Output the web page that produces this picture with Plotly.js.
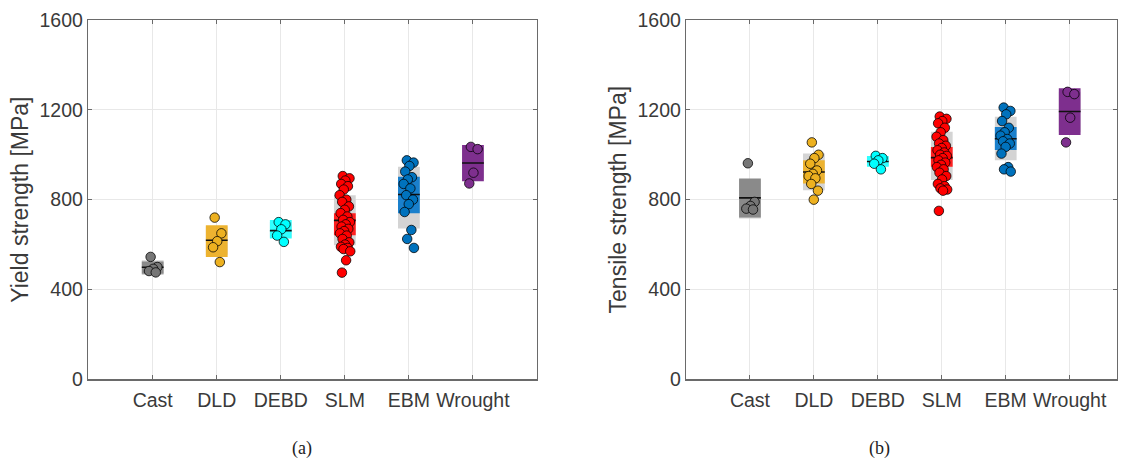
<!DOCTYPE html>
<html><head><meta charset="utf-8">
<script src="https://cdn.plot.ly/plotly-3.0.1.min.js"></script>
<style>html,body{margin:0;padding:0;background:#fff}</style>
</head><body><div id="chart" style="width:1126px;height:474px"></div>
<script>
// ---------- data ----------
const categories = ['Cast', 'DLD', 'DEBD', 'SLM', 'EBM', 'Wrought'];
const catPos = [1, 2, 3, 4, 5, 6];
const yTicks = [0, 400, 800, 1200, 1600];

// (a) Yield strength [MPa]
const yieldCast = [545, 500, 492, 482, 476];
const yieldDLD = [720, 650, 615, 588, 522];
const yieldDEBD = [700, 690, 668, 640, 612];
const yieldSLM = [905, 895, 885, 870, 860, 845, 820, 800, 790, 770, 755, 740, 725, 710, 700,
                  690, 680, 670, 660, 650, 640, 625, 610, 600, 590, 585, 580, 570, 530, 475];
const yieldEBM = [975, 965, 950, 925, 900, 890, 870, 850, 820, 800, 780, 745, 665, 625, 585];
const yieldWrought = [1035, 1025, 920, 872];
const yieldCiLow  = [470, 545, 627, 642, 739, 882];
const yieldCiHigh = [525, 686, 709, 739, 902, 1043];
const yieldSdLow  = [465, 555, 632, 597, 672, 895];
const yieldSdHigh = [530, 680, 700, 820, 946, 1030];

// (b) Tensile strength [MPa]
const tensCast = [962, 790, 772, 760, 756];
const tensDLD = [1055, 1000, 985, 960, 930, 915, 905, 895, 870, 840, 800];
const tensDEBD = [995, 985, 975, 960, 935];
const tensSLM = [1170, 1160, 1150, 1140, 1120, 1100, 1080, 1065, 1050, 1040, 1030, 1020, 1010, 1000, 995,
                 985, 975, 965, 955, 945, 935, 920, 905, 890, 870, 860, 850, 845, 840, 750];
const tensEBM = [1210, 1195, 1180, 1150, 1120, 1100, 1085, 1070, 1060, 1050, 1035, 1005, 945, 935, 925];
const tensWrought = [1280, 1270, 1165, 1055];
const tensCiLow  = [720, 872, 946, 946, 1021, 1088];
const tensCiHigh = [894, 976, 994, 1035, 1124, 1296];
const tensSdLow  = [716, 842, 950, 887, 976, 1100];
const tensSdHigh = [890, 1006, 990, 1102, 1169, 1280];

// ---------- styles ----------
const markerColors = ['#767676', '#EDB120', '#00FFFF', '#FF0000', '#0072BD', '#7E2F8E'];
const ciColors = ['#8a8a8a', '#EDB330', '#30FFFF', '#FF2020', '#1A80CC', '#7E2F8E'];
const sdColor = '#d4d4d4';
const boxW = 0.34;
const jitW = 0.17;

function mean(a) { return a.reduce((s, v) => s + v, 0) / a.length; }

function panelTraces(groups, ciLo, ciHi, sdLo, sdHi, xa, ya) {
  const tr = [];
  tr.push({
    type: 'bar', x: catPos, base: sdLo, y: sdHi.map((v, i) => v - sdLo[i]),
    width: boxW, marker: {color: sdColor, line: {width: 0}}, xaxis: xa, yaxis: ya,
    hoverinfo: 'skip', showlegend: false
  });
  tr.push({
    type: 'bar', x: catPos, base: ciLo, y: ciHi.map((v, i) => v - ciLo[i]),
    width: boxW, marker: {color: ciColors, line: {width: 0}}, xaxis: xa, yaxis: ya,
    hoverinfo: 'skip', showlegend: false
  });
  const mx = [], my = [];
  groups.forEach((g, i) => {
    const m = mean(g);
    mx.push(catPos[i] - boxW / 2, catPos[i] + boxW / 2, null);
    my.push(m, m, null);
  });
  tr.push({
    type: 'scatter', mode: 'lines', x: mx, y: my, line: {color: '#111', width: 1.6},
    xaxis: xa, yaxis: ya, hoverinfo: 'skip', showlegend: false
  });
  groups.forEach((g, i) => {
    const xs = g.map((v, k) => catPos[i] + (((k * 0.618034 + 0.31) % 1) - 0.5) * jitW);
    tr.push({
      type: 'scatter', mode: 'markers', x: xs, y: g,
      marker: {size: 9.5, color: markerColors[i], line: {color: 'rgba(0,0,0,0.85)', width: 0.9}},
      xaxis: xa, yaxis: ya, showlegend: false
    });
  });
  return tr;
}

const traces = [].concat(
  panelTraces([yieldCast, yieldDLD, yieldDEBD, yieldSLM, yieldEBM, yieldWrought],
              yieldCiLow, yieldCiHigh, yieldSdLow, yieldSdHigh, 'x', 'y'),
  panelTraces([tensCast, tensDLD, tensDEBD, tensSLM, tensEBM, tensWrought],
              tensCiLow, tensCiHigh, tensSdLow, tensSdHigh, 'x2', 'y2')
);

const W = 1126, H = 474;
const fontFam = '"Liberation Sans", Arial, Helvetica, sans-serif';
const tickFont = {family: fontFam, size: 19.5, color: '#3a3a3a'};

function xAxis(dom, range, anchor) {
  return {
    domain: dom, range: range, anchor: anchor, tickvals: catPos, ticktext: categories,
    showgrid: true, gridcolor: '#e8e8e8', gridwidth: 1, zeroline: false,
    showline: true, linecolor: '#6a6a6a', linewidth: 1.2, mirror: 'ticks',
    ticks: 'inside', ticklen: 4, tickcolor: '#6a6a6a', tickfont: tickFont,
    ticklabelstandoff: 3, fixedrange: true
  };
}
function yAxis(title, anchor, standoff) {
  return {
    domain: [(H - 379.3) / H, (H - 20) / H], range: [0, 1600], anchor: anchor,
    tickvals: yTicks, ticktext: yTicks.map(String),
    showgrid: true, gridcolor: '#e8e8e8', gridwidth: 1, zeroline: false,
    showline: true, linecolor: '#6a6a6a', linewidth: 1.2, mirror: 'ticks',
    ticks: 'inside', ticklen: 4, tickcolor: '#6a6a6a', tickfont: tickFont,
    title: {text: title, font: {family: fontFam, size: 23, color: '#3a3a3a'}, standoff: standoff},
    fixedrange: true
  };
}

const layout = {
  width: W, height: H, margin: {l: 0, r: 0, t: 0, b: 0},
  paper_bgcolor: '#fff', plot_bgcolor: '#fff', barmode: 'overlay', showlegend: false,
  xaxis: xAxis([88 / W, 537 / W], [-0.01, 7], 'y'),
  yaxis: yAxis('Yield strength [MPa]', 'x', 4),
  xaxis2: xAxis([686 / W, 1117 / W], [0, 6.74], 'y2'),
  yaxis2: yAxis('Tensile strength [MPa]', 'x2', 4),
  annotations: [
    {text: '(a)', xref: 'paper', yref: 'paper', x: 290 / W, y: (H - 461) / H, showarrow: false,
     font: {family: '"Liberation Serif", "Times New Roman", serif', size: 18, color: '#222'}},
    {text: '(b)', xref: 'paper', yref: 'paper', x: 892 / W, y: (H - 461) / H, showarrow: false,
     font: {family: '"Liberation Serif", "Times New Roman", serif', size: 18, color: '#222'}}
  ]
};

Plotly.newPlot('chart', traces, layout, {displayModeBar: false, staticPlot: true});
</script></body></html>
